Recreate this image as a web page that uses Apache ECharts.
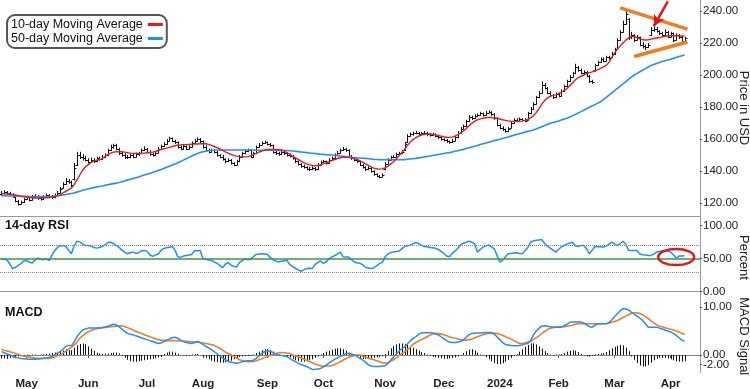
<!DOCTYPE html>
<html><head><meta charset="utf-8">
<script src="https://cdn.jsdelivr.net/npm/echarts@6/dist/echarts.min.js"></script>
<style>html,body{margin:0;padding:0;background:#fff}#c{width:750px;height:389px}</style>
</head><body><div id="c"></div>
<script>
// trading days (last 5 are empty future slots)
const dates = [
'2023-04-18','2023-04-19','2023-04-20','2023-04-21','2023-04-24','2023-04-25','2023-04-26','2023-04-27','2023-04-28',
'2023-05-01','2023-05-02','2023-05-03','2023-05-04','2023-05-05','2023-05-08','2023-05-09','2023-05-10','2023-05-11','2023-05-12','2023-05-15','2023-05-16','2023-05-17','2023-05-18','2023-05-19','2023-05-22','2023-05-23','2023-05-24','2023-05-25','2023-05-26','2023-05-30','2023-05-31',
'2023-06-01','2023-06-02','2023-06-05','2023-06-06','2023-06-07','2023-06-08','2023-06-09','2023-06-12','2023-06-13','2023-06-14','2023-06-15','2023-06-16','2023-06-20','2023-06-21','2023-06-22','2023-06-23','2023-06-26','2023-06-27','2023-06-28','2023-06-29','2023-06-30',
'2023-07-03','2023-07-05','2023-07-06','2023-07-07','2023-07-10','2023-07-11','2023-07-12','2023-07-13','2023-07-14','2023-07-17','2023-07-18','2023-07-19','2023-07-20','2023-07-21','2023-07-24','2023-07-25','2023-07-26','2023-07-27','2023-07-28','2023-07-31',
'2023-08-01','2023-08-02','2023-08-03','2023-08-04','2023-08-07','2023-08-08','2023-08-09','2023-08-10','2023-08-11','2023-08-14','2023-08-15','2023-08-16','2023-08-17','2023-08-18','2023-08-21','2023-08-22','2023-08-23','2023-08-24','2023-08-25','2023-08-28','2023-08-29','2023-08-30','2023-08-31',
'2023-09-01','2023-09-05','2023-09-06','2023-09-07','2023-09-08','2023-09-11','2023-09-12','2023-09-13','2023-09-14','2023-09-15','2023-09-18','2023-09-19','2023-09-20','2023-09-21','2023-09-22','2023-09-25','2023-09-26','2023-09-27','2023-09-28','2023-09-29',
'2023-10-02','2023-10-03','2023-10-04','2023-10-05','2023-10-06','2023-10-09','2023-10-10','2023-10-11','2023-10-12','2023-10-13','2023-10-16','2023-10-17','2023-10-18','2023-10-19','2023-10-20','2023-10-23','2023-10-24','2023-10-25','2023-10-26','2023-10-27','2023-10-30','2023-10-31',
'2023-11-01','2023-11-02','2023-11-03','2023-11-06','2023-11-07','2023-11-08','2023-11-09','2023-11-10','2023-11-13','2023-11-14','2023-11-15','2023-11-16','2023-11-17','2023-11-20','2023-11-21','2023-11-22','2023-11-24','2023-11-27','2023-11-28','2023-11-29','2023-11-30',
'2023-12-01','2023-12-04','2023-12-05','2023-12-06','2023-12-07','2023-12-08','2023-12-11','2023-12-12','2023-12-13','2023-12-14','2023-12-15','2023-12-18','2023-12-19','2023-12-20','2023-12-21','2023-12-22','2023-12-26','2023-12-27','2023-12-28','2023-12-29',
'2024-01-02','2024-01-03','2024-01-04','2024-01-05','2024-01-08','2024-01-09','2024-01-10','2024-01-11','2024-01-12','2024-01-16','2024-01-17','2024-01-18','2024-01-19','2024-01-22','2024-01-23','2024-01-24','2024-01-25','2024-01-26','2024-01-29','2024-01-30','2024-01-31',
'2024-02-01','2024-02-02','2024-02-05','2024-02-06','2024-02-07','2024-02-08','2024-02-09','2024-02-12','2024-02-13','2024-02-14','2024-02-15','2024-02-16','2024-02-20','2024-02-21','2024-02-22','2024-02-23','2024-02-26','2024-02-27','2024-02-28','2024-02-29',
'2024-03-01','2024-03-04','2024-03-05','2024-03-06','2024-03-07','2024-03-08','2024-03-11','2024-03-12','2024-03-13','2024-03-14','2024-03-15','2024-03-18','2024-03-19','2024-03-20','2024-03-21','2024-03-22','2024-03-25','2024-03-26','2024-03-27','2024-03-28',
'2024-04-01','2024-04-02','2024-04-03','2024-04-04','2024-04-05','2024-04-08',
'2024-04-09','2024-04-10','2024-04-11','2024-04-12','2024-04-15'
];
const monthStarts = ['2023-05-01','2023-06-01','2023-07-03','2023-08-01','2023-09-01','2023-10-02','2023-11-01','2023-12-01','2024-01-02','2024-02-01','2024-03-01','2024-04-01'];
const monthLabels = ['May','Jun','Jul','Aug','Sep','Oct','Nov','Dec','2024','Feb','Mar','Apr'];

// daily bars: [open, high, low, close]
const priceBars = [
[125.5,127.5,124.5,126],[126,128,125.5,127],[127,127.5,125,126],[126,127,124.5,125.5],[125.5,126,123.5,124.5],
[124,124.5,120.5,121],[121,122,118.5,119.5],[119.5,121.5,119,120.5],[120.5,123,120,122.5],[122.5,124.5,122,123.5],
[123.5,124,121,122],[122,125,121.5,124],[124,125.5,123,124.5],[124.5,125,122,123],[123,124,121.5,122.5],
[122.5,125,122,124],[124,126,123.5,125],[125,125.5,123,124],[124,125,122.5,123.5],[123.5,126,123,125],
[125,127.5,124.5,126.5],[126.5,130,126,129],[129.5,133,129,132],[132,135.5,131.5,134],[134,135,132,133],
[133,134,130,131],[135,145,134,142],[144,152,143,150],[150,152,147.5,149],[149,150.5,146.5,148],
[148,149.5,146,147],[147,148,144.5,145.5],[145.5,148.5,145,147],[147,148,145,146],[146,149,145.5,148],
[148,149,146.5,147.5],[147.5,150,147,149],[149,151,148,150],[150,154,149.5,153],[153,156.5,152.5,155],
[155,157,154,156],[156,157,153,154],[154,154.5,150,151],[151,152,149,150],[150,151,147.5,148.5],
[148.5,150,147.5,149],[149,151,148,150],[150,151,148,149],[149,151.5,148.5,150.5],[150.5,152,149.5,151],
[151,154,150.5,153],[153,155.5,152.5,154],[154,154.5,151,152],[152,153,149.5,150.5],[150.5,151.5,149,150],
[150,152.5,149.5,151.5],[151.5,155,151,154],[154,156.5,153.5,155.5],[155.5,158,155,157],[157,160,156.5,159],
[159,161.5,158.5,160.5],[160.5,161,158,159],[159,159.5,157,158],[158,158.5,154,155],[155,156,153,154],
[154,156.5,153.5,155.5],[155.5,156,153,154],[154,156,153.5,155],[155,158.5,154.5,157.5],[157.5,160,157,159],
[159,161,158.5,160],[160,160.5,157.5,158.5],[158.5,159,154,155],[155,156,152,153],[153,154,151,152],
[152,154,151.5,153],[153,153.5,151,152],[152,152.5,149,150],[150,150.5,148,149],[149,150,146.5,147.5],
[147.5,148,145,146],[146,148,145.5,147],[147,147.5,144,145],[145,145.5,143,144],[144,147,143.5,146],
[146,150,145.5,149],[149,152,148.5,151],[151,153.5,150.5,152.5],[152.5,154,152,153],[153,153.5,148,149],
[149,152,148.5,151],[151,156,150.5,155],[155,157.5,154.5,156.5],[156.5,158.5,156,157.5],[157.5,159,157,158],
[158,158.5,156,157],[157,157.5,155,156],[156,156.5,151,152],[152,153,150,151],[151,152,149.5,150.5],
[150.5,153,150,152],[152,152.5,150,151],[151,151.5,149,150],[150,151,148.5,149.5],[149.5,150,147,148],
[148,148.5,145,146],[146,146.5,143.5,144.5],[144.5,145,142,143],[143,144,141.5,142.5],[142.5,143,140.5,141.5],
[141.5,142.5,140,141],[141,143,140.5,142],[142,142.5,140,141],[141,145,140.5,144],[144,146.5,143.5,145.5],
[145.5,147,145,146],[146,146.5,144,145],[145,148,144.5,147],[147,149,146.5,148],[148,151,147.5,150],
[150,152.5,149.5,151.5],[151.5,154,151,153],[153,155,152.5,154],[154,154.5,152,153],[153,153.5,148,149],
[149,150,147,148],[148,148.5,146,147],[147,147.5,145,146],[146,146.5,143,144],[144,144.5,141.5,142.5],
[142.5,143,140,141],[141,143,140.5,142],[142,142.5,139,140],[140,140.5,137,138],[138,138.5,136,137],
[137,137.5,135.5,136.5],[136.5,138.5,136,137.5],[141,145.5,140.5,144.5],[144.5,148,144,147],[147,149.5,146.5,148.5],
[148.5,150,148,149],[149,151.5,148.5,150.5],[150.5,152,150,151],[151,153,150.5,152],[153,158,152.5,157],
[158,163,157.5,162],[162,164,161.5,163],[163,164.5,162,163.5],[163.5,165,163,164],[164,164.5,162,163],
[163,164.5,162.5,163.5],[163.5,165,163,164],[164,164.5,162,163],[163,163.5,161.5,162.5],[162.5,164,162,163],
[163,163.5,161,162],[162,162.5,160,161],[161,161.5,159,160],[160,160.5,158.5,159.5],[159.5,160,157.5,158.5],
[158.5,159,157,158],[158,160,157.5,159],[159,162,158.5,161],[161,165,160.5,164],[164,167.5,163.5,166.5],
[166.5,169,166,168],[168,172,167.5,171],[171,175,170.5,174],[174,174.5,172,173],[173,175.5,172.5,174.5],
[174.5,176,174,175],[175,177,174.5,176],[176,176.5,174,175],[175,177.5,174.5,176.5],[176.5,178,176,177],
[177,177.5,174.5,175.5],[175.5,176,172,173],[173,173.5,168,169],[169,169.5,166,167],[167,168,165,166],
[166,166.5,164,165],[165,167.5,164.5,166.5],[167,171,166.5,170],[170,173,169.5,172],[172,173,170.5,171.5],
[171.5,173.5,171,172.5],[172.5,173,171,172],[172,173,170.5,171.5],[172,177,171.5,176],[176,180,175.5,179],
[179,183,178.5,182],[182,187,181.5,186],[186,190,185.5,189],[189,196,188.5,194],[194,195,191,192],
[192,192.5,188,189],[189,190,186.5,187.5],[187.5,188,185,186],[186,189,185.5,188],[188,189,186,187],
[187,191,186.5,190],[190,194,189.5,193],[193,197,192.5,196],[196,200,195.5,199],[199,202,198.5,201],
[201,207,200.5,205],[205,205.5,202,203],[203,204,200.5,201.5],[201.5,203,200.5,202],[202,202.5,198.5,199.5],
[199.5,200,195,196],[196,197,194.5,195.5],[203,207,202,206],[206,209,205.5,208],[208,211,207.5,210],
[210,211,208,209],[209,212,208.5,211],[211,212,209.5,210.5],[211,214.5,210.5,213],[213,217,212.5,216],
[216.5,223,216,222],[222,228,221.5,227],[227,234,226.5,232],[232,241,231.5,238],[235,235.5,222,224],
[224,227,222.5,225],[225,225.5,220.5,222],[222,225,221.5,223.5],[223.5,224,218,219],[219,220.5,216.5,218],
[218,219,215.5,217.5],[217.5,220,217,219],[225,230,224.5,228],[228,230.5,227,229],[229,230,226.5,227.5],
[227.5,228,225,226],[226,227,224,225],[225,228.5,224.5,227],[227,227.5,223,224],[224,227,223.5,226],
[226,226.5,220.5,222],[222,226,221.5,225],[225,225.5,222.5,224],[224,224.5,219.5,221],[221,224,220.5,223]
];

const ma10 = [
125.8,125.7,125.6,125.5,125.3,125,124.6,124.2,123.9,123.6,
123.4,123.2,123.1,123.1,123.2,123.3,123.3,123.4,123.6,124,
124.5,125.3,126.3,127.3,128.3,129.3,131.5,134.5,137.5,140.5,
142.5,144,145.3,146.3,146.7,147,147.8,149,150.3,151.2,
151.8,152,152.1,152,151.8,151.5,151.2,151,150.9,150.9,
151,151.2,151.4,151.6,151.8,152.2,152.8,153.4,153.9,154.3,
154.8,155.3,155.8,156.1,156.3,156.4,156.5,156.6,156.7,156.8,
156.9,157,157,157,156.6,156,155.3,154.6,153.8,152.9,
152,151.2,150.4,149.8,149.3,149,148.8,148.8,149,149.5,
150.2,151,151.8,152.5,153.1,153.4,153.5,153.5,153.4,153.3,
153.1,152.5,151.5,150.4,149.2,148.2,147.2,146.2,145.3,144.5,
143.9,143.5,143.3,143.4,143.8,144.4,145.1,145.8,146.5,147.2,
147.8,148.3,148.6,148.6,148.5,148.2,147.8,147.2,146.4,145.5,
144.5,143.5,142.6,141.8,141.4,141.2,141.3,142,143,144.3,
145.8,147.5,149.5,151.5,153.5,156,158,159.6,160.8,161.8,
162.5,162.9,163.1,163.1,162.9,162.6,162.2,161.8,161.4,161.1,
161,161.2,161.8,162.7,163.8,165,166.5,168.2,169.8,171,
172,172.6,173,173.3,173.5,173.4,173.2,173,172.5,172,
171.6,171.3,171.1,171,171,171,171.2,171.6,172.2,173.2,
174.5,176.5,179,181.8,184,185.7,186.7,187.3,187.6,188.3,
189.2,190.4,191.5,193.3,195.2,197,198.3,199.2,200,200.8,
201.5,202,202.6,203.3,204.2,205.1,206,208,210.8,213.8,
216,218.2,220,221.8,223.2,224,224,223.3,222.6,222,
221.9,222,222.4,222.8,223.1,223.4,223.8,224.2,224.4,224.5,
224.5,224.5,224.4,224.4,224.3
];

const ma50 = [
124.5,124.5,124.4,124.4,124.4,124.3,124.3,124.2,124.2,124.2,
124.1,124.1,124.1,124,124,124,124,124,124.1,124.3,
124.5,124.7,125,125.3,125.6,125.9,126.3,126.8,127.4,128,
128.4,128.8,129.2,129.6,130,130.3,130.6,131,131.4,131.8,
132.1,132.4,132.8,133.3,133.8,134.3,134.8,135.3,135.8,136.3,
136.9,137.5,138,138.5,139.1,139.7,140.3,140.9,141.6,142.3,
143,143.7,144.4,145.2,146,146.8,147.6,148.5,149.4,150.2,
150.9,151.5,152,152.4,152.7,152.9,153,153.1,153.1,153.1,
153.1,153.1,153.1,153.1,153.1,153.1,153.1,153.1,153.1,153.1,
153.1,153,153,153,153,153,153,153,153,152.9,
152.9,152.8,152.8,152.7,152.5,152.3,152.1,151.9,151.7,151.5,
151.3,151.1,150.9,150.7,150.5,150.4,150.2,150.1,150,149.8,
149.6,149.4,149.2,149,148.8,148.6,148.4,148.2,148.1,148,
147.9,147.7,147.5,147.3,147.2,147.1,147,147,147,147,
147,147,147,147,147.1,147.3,147.5,147.7,147.9,148.2,
148.5,148.8,149.1,149.4,149.7,150,150.3,150.6,150.9,151.2,
151.5,151.9,152.3,152.7,153.1,153.5,154,154.5,155,155.5,
156,156.5,157,157.5,158,158.5,159,159.4,159.8,160.3,
160.8,161.3,161.8,162.3,162.8,163.3,163.8,164.3,164.8,165.2,
165.6,166.3,167,167.7,168.4,169.1,169.8,170.3,170.8,171.3,
171.9,172.5,173,173.8,174.6,175.4,176.3,177.1,178,178.9,
179.8,180.7,181.5,182.4,183.3,184.6,186,187.4,188.8,190.3,
191.7,193.1,194.5,195.9,197.3,198.7,200,201,202,203,
204,205,206,206.6,207.2,207.8,208.4,208.9,209.4,209.9,
210.4,210.9,211.5,212,212.5
];

const rsi = [
50,49,48,42,35,37,40,42.5,47,47,
45,43.5,48,51,49,48.5,50,47,55,62,
67,70,69.5,68.5,63,57.5,70,76.5,75.5,72,
70,70,69,67,66,67,68.5,71,74.5,75,
73,70,67.5,63,60,57.5,59,60,58,59,
62,62.5,61.5,56,53.5,55.5,57,63,65.5,66.5,
67.5,68.5,63,53,52,54,55,55.5,56.5,62.5,
62,62.5,50,49,48,47.5,45,43,40,36.5,
42,44,40,38.5,37.5,44,47,50,48.5,49,
53,56.5,57,57.5,57,56.5,52,48.5,46.5,45,
46,47,47.5,41,38,35.5,33,31,33,35,
35.5,35,41,44.5,46.5,43,45.5,50,52.5,54.5,
57,60,53,52.5,52.5,49,45,44,43,41,
37,36,35,36,39,42.5,44,52.5,57,59.5,
60,61,61.5,65,68.5,69.5,70.5,72.5,74.5,73,
70.5,68.5,68,67,66.5,66,64,61,58,54,
53,58,61.5,66,71,73.5,75,76.5,75,72.5,
60,64,67.5,69,71,68,65,55,45,47.5,
53,57.5,58,58.5,59,58,57.5,62,67,75,
77,78,78.5,79,73,69,66,63,60,64,
68,70,72,74,75,69,69,70,70,65,
57.5,63,68.5,68,68,67.5,69,72,75,72,
70,73,76.5,72,62.5,62.5,62.5,62.5,57,56,
55.5,55,55,57,60,61,62,62.5,61.5,60,
56,51,54,54,54.5
];

const macd = [
0.7,0.5,0.2,0,-0.2,-0.5,-0.6,-0.75,-0.8,-0.85,
-0.9,-0.9,-0.9,-0.85,-0.8,-0.7,-0.6,-0.5,-0.3,0,
0.4,0.7,1.2,1.8,2,1.9,2.8,3.8,4.6,5.2,
5.4,5.6,5.6,5.6,5.6,5.6,5.7,5.85,6,6.2,
6.4,6.3,5.9,5.4,4.9,4.5,4.3,4.2,4,3.8,
3.6,3.4,3.2,3,2.8,2.6,2.4,2.5,2.8,3.1,
3.3,3.6,3.7,3.5,3.1,2.8,2.6,2.5,2.4,2.6,
2.8,2.6,2.2,1.8,1.5,1.1,0.7,0.3,-0.2,-0.6,
-1,-1.3,-1.5,-1.6,-1.7,-1.6,-1.4,-1.25,-1.2,-1.2,
-1.1,-0.7,-0.2,0.3,0.7,0.9,0.8,0.5,0.2,0,
-0.1,-0.2,-0.35,-0.7,-1.1,-1.4,-1.7,-2,-2.2,-2.4,
-2.7,-3,-3,-2.9,-2.8,-2.5,-2.1,-1.7,-1.3,-0.9,
-0.6,-0.3,0,0.3,0.3,0.2,0,-0.3,-0.7,-1,
-1.5,-2,-2.3,-2.4,-2.4,-2.4,-2.3,-2.3,-1.8,-1.1,
-0.5,0.2,0.8,1.3,1.7,2.3,2.9,3.4,3.8,4.3,
4.6,4.65,4.7,4.65,4.6,4.4,4.2,3.8,3.4,3,
2.7,2.6,2.6,2.7,2.8,3.2,3.7,4.2,4.5,4.55,
4.6,4.6,4.65,4.7,4.7,4.7,4.4,3.8,3.2,2.6,
2.2,2.1,2,1.95,1.95,2,2.1,2.3,2.4,3,
4.2,5,5.6,6,6.1,6,5.9,5.85,5.8,5.8,
5.8,6.1,6.4,6.8,6.9,6.9,6.9,6.9,6.7,6.3,
5.9,5.8,6.2,6.5,6.5,6.5,6.5,6.8,7.3,8,
8.6,9.2,9.7,9.6,9.4,8.9,8.5,8.1,7.7,7.2,
6.5,5.8,5.8,5.8,5.8,5.6,5.4,5.2,5,4.8,
4.5,4.1,3.6,3.1,2.9
];

const signal = [
1.2,1,0.85,0.65,0.5,0.3,0.1,-0.1,-0.25,-0.35,
-0.45,-0.55,-0.65,-0.7,-0.7,-0.7,-0.7,-0.7,-0.6,-0.4,
-0.15,0.05,0.4,0.8,1.2,1.6,2.1,2.7,3.5,4,
4.5,4.85,5.1,5.3,5.5,5.6,5.7,5.75,5.8,5.9,
5.95,6,6.05,6.1,5.95,5.7,5.45,5.2,4.95,4.7,
4.5,4.2,4,3.8,3.6,3.4,3.2,3.1,3.05,3,
3,3,3,3,2.95,2.9,2.85,2.8,2.75,2.7,
2.65,2.6,2.5,2.4,2.3,2.15,2,1.7,1.4,1,
0.6,0.3,0,-0.3,-0.6,-1,-1.15,-1.3,-1.4,-1.4,
-1.35,-1.2,-1,-0.8,-0.55,-0.3,-0.1,0.1,0.3,0.45,
0.5,0.45,0.4,0.3,0,-0.2,-0.35,-0.6,-0.9,-1.1,
-1.35,-1.6,-1.9,-2.1,-2.3,-2.3,-2.3,-2.3,-2.2,-2,
-1.7,-1.4,-1.1,-0.8,-0.5,-0.3,-0.1,0,0,-0.2,
-0.4,-0.7,-0.85,-1,-1.2,-1.4,-1.6,-1.7,-1.6,-1.3,
-1,-0.6,-0.1,0.3,0.7,1.1,1.6,2.2,2.6,2.9,
3.2,3.5,3.8,4.1,4.4,4.5,4.45,4.35,4.2,4,
3.8,3.6,3.5,3.35,3.2,3.1,3.1,3.2,3.35,3.6,
3.8,4,4.2,4.4,4.5,4.5,4.5,4.5,4.3,4.1,
3.8,3.6,3.3,3,2.7,2.4,2.4,2.5,2.7,2.8,
3.2,3.6,4,4.5,4.9,5.3,5.6,5.7,5.8,5.85,
5.9,5.9,6,6.1,6.2,6.4,6.5,6.5,6.5,6.5,
6.5,6.5,6.5,6.5,6.5,6.5,6.5,6.6,6.8,7,
7.2,7.5,7.8,8.1,8.4,8.7,8.8,8.8,8.65,8.4,
8,7.6,7.1,6.7,6.3,6,5.9,5.7,5.5,5.35,
5.2,5,4.8,4.5,4.35
];

const histogram = [
-0.7,-0.7,-0.8,-0.6,-0.5,-0.4,-0.3,-0.2,-0.1,0.1,
-0.1,0.1,0.1,0,0.1,0.1,0.2,0.3,0.4,0.5,
0.5,0.6,0.9,1.2,1,1,1.5,2,2.3,2.4,
2.2,1.8,1.3,0.9,0.5,0.3,0.2,0.3,0.3,0.4,
0.5,0.5,0.3,-0.2,-0.6,-1,-1.3,-1.4,-1.4,-1.3,
-1.2,-1.1,-1,-0.9,-0.8,-0.7,-0.5,-0.4,0.2,0.5,
0.7,0.7,0.5,0.2,0,-0.1,-0.2,-0.1,0.1,0.2,
0.2,0,-0.3,-0.6,-0.9,-1.2,-1.4,-1.5,-1.6,-1.6,
-1.5,-1.4,-1.2,-0.9,-0.6,-0.4,-0.3,-0.2,-0.2,-0.1,
0.1,0.4,0.7,1,1.2,1.2,1,0.7,0.3,0.1,
-0.1,-0.2,-0.3,-0.5,-0.8,-1.1,-1.3,-1.4,-1.4,-1.3,
-1.1,-0.9,-0.6,-0.3,0.1,0.4,0.7,0.9,1.1,1.3,
1.4,1.4,1.2,0.9,0.5,0.2,-0.1,-0.4,-0.6,-0.8,
-0.8,-0.8,-0.7,-0.6,-0.5,-0.4,-0.3,0.2,0.8,1.4,
1.9,2.2,2.4,2.4,2.3,2.1,1.8,1.5,1.2,0.9,
0.6,0.4,0.1,-0.2,-0.4,-0.5,-0.6,-0.7,-0.8,-0.8,
-0.7,-0.6,-0.5,-0.3,-0.1,0.4,0.8,1.1,1.2,0.9,
0.5,0.1,-0.1,-0.5,-0.9,-1.3,-1.7,-1.9,-1.9,-1.7,
-1.4,-1,-0.6,-0.2,0.2,0.7,1.2,1.7,2.1,2.4,
2.4,2.2,1.8,1.3,0.8,0.4,0.1,-0.1,0.1,0.1,
0.2,0.4,0.7,0.9,1,0.9,0.6,0.2,-0.1,-0.3,
-0.3,-0.2,0.1,0.2,0.3,0.4,0.6,1,1.4,1.7,
1.9,2.1,2,1.5,0.8,-0.3,-1,-1.7,-2.2,-2.4,
-2.4,-2.1,-1.6,-1.1,-0.8,-0.6,-0.6,-0.6,-0.7,-0.9,
-1.1,-1.3,-1.4,-1.4,-1.3
];

const priceTicks = [120,140,160,180,200,220,240];
const rsiTicks = [0,50,100];
const macdTicks = [0,10];
const macdLowTicks = [-2];

const FONT = 'Liberation Sans';
const isMonthStart = (i, v) => monthStarts.indexOf(v) >= 0;

function xAx(gridIndex, showLabels) {
  return {
    type: 'category', gridIndex: gridIndex, data: dates, boundaryGap: true,
    axisLine: {show: true, lineStyle: {color: '#9a9a9a', width: 1}},
    axisTick: {show: showLabels, interval: isMonthStart, alignWithLabel: true, length: 3, lineStyle: {color: '#555'}},
    axisLabel: {show: showLabels, interval: isMonthStart,
      formatter: v => monthLabels[monthStarts.indexOf(v)],
      fontFamily: FONT, fontWeight: 'bold', fontSize: 11.5, color: '#222', margin: 5},
    splitLine: {show: false}
  };
}
function yAx(gridIndex, min, max, ticks, name, gap, showLine) {
  return {
    type: 'value', gridIndex: gridIndex, position: 'right', min: min, max: max,
    axisLine: {show: showLine !== false, lineStyle: {color: '#9a9a9a', width: 1}},
    axisTick: {show: true, customValues: ticks, length: 2, lineStyle: {color: '#555'}},
    axisLabel: {customValues: ticks, hideOverlap: false, formatter: v => Number(v).toFixed(2),
      fontFamily: FONT, fontSize: 11.5, color: '#222', margin: 3},
    splitLine: {show: false},
    name: name, nameLocation: 'middle', nameRotate: -90, nameGap: gap, nameMoveOverlap: false,
    nameTextStyle: {fontFamily: FONT, fontSize: 13, color: '#222'}
  };
}

function renderOHLC(params, api) {
  const i = api.value(0);
  const o = api.coord([i, api.value(1)]);
  const h = api.coord([i, api.value(2)]);
  const l = api.coord([i, api.value(3)]);
  const c = api.coord([i, api.value(4)]);
  const x = Math.round(o[0]) + 0.5;
  const st = {stroke: '#111', lineWidth: 1};
  return {type: 'group', children: [
    {type: 'line', shape: {x1: x, y1: h[1], x2: x, y2: l[1]}, style: st},
    {type: 'line', shape: {x1: x - 2, y1: Math.round(o[1]) + 0.5, x2: x, y2: Math.round(o[1]) + 0.5}, style: st},
    {type: 'line', shape: {x1: x, y1: Math.round(c[1]) + 0.5, x2: x + 2, y2: Math.round(c[1]) + 0.5}, style: st}
  ]};
}
function renderHist(params, api) {
  const i = api.value(0);
  const top = api.coord([i, api.value(1)]);
  const base = api.coord([i, 0]);
  const x = Math.round(top[0]) + 0.5;
  return {type: 'line', shape: {x1: x, y1: base[1], x2: x, y2: top[1]}, style: {stroke: '#111', lineWidth: 1}};
}

const BLUE = '#1e8fff', RED = '#f01818', ORANGE = '#f47c20';
const gridBase = {left: 0, right: 50, containLabel: false, outerBoundsMode: 'none'};

const option = {
  animation: false,
  backgroundColor: '#fff',
  grid: [
    Object.assign({top: 0, height: 216}, gridBase),
    Object.assign({top: 216, height: 83}, gridBase),
    Object.assign({top: 300, height: 72.5}, gridBase)
  ],
  legend: {
    left: 7, top: 15, orient: 'vertical', align: 'right',
    data: ['10-day Moving Average', '50-day Moving Average'],
    icon: 'rect', itemWidth: 15, itemHeight: 3, itemGap: 1,
    padding: [3, 4, 3, 4], borderColor: '#555', borderWidth: 2, borderRadius: 8,
    backgroundColor: '#fff', selectedMode: false,
    textStyle: {fontFamily: FONT, fontSize: 12.5, color: '#111'}
  },
  xAxis: [xAx(0, false), xAx(1, false), xAx(2, true)],
  yAxis: [
    yAx(0, 111.875, 246.875, priceTicks, 'Price in USD', 37),
    yAx(1, -11.06, 114.7, rsiTicks, 'Percent', 37),
    yAx(2, -3.65, 11.46, macdTicks, 'MACD Signal', 37),
    yAx(2, -3.65, 11.46, macdLowTicks, '', 37, false)
  ],
  series: [
    {type: 'custom', name: 'Price', xAxisIndex: 0, yAxisIndex: 0,
      data: priceBars.map((b, i) => [i, b[0], b[1], b[2], b[3]]),
      encode: {x: 0, y: [1, 2, 3, 4]}, renderItem: renderOHLC, z: 2},
    {type: 'line', name: '50-day Moving Average', xAxisIndex: 0, yAxisIndex: 0, data: ma50,
      showSymbol: false, lineStyle: {color: BLUE, width: 1.6}, itemStyle: {color: BLUE}, z: 3},
    {type: 'line', name: '10-day Moving Average', xAxisIndex: 0, yAxisIndex: 0, data: ma10,
      showSymbol: false, lineStyle: {color: RED, width: 1.4}, itemStyle: {color: RED}, z: 4,
      markLine: {silent: true, symbol: ['none', 'none'], label: {show: false}, animation: false,
        data: [
          [{coord: [221, 242], lineStyle: {color: ORANGE, width: 3.5, type: 'solid'}}, {coord: [245, 228.7]}],
          [{coord: [226, 211.6], lineStyle: {color: ORANGE, width: 3.5, type: 'solid'}}, {coord: [245, 220.6]}],
          [{coord: [238, 246], lineStyle: {color: '#e8141b', width: 2.5, type: 'solid'}},
           {coord: [233, 230.5], symbol: 'arrow', symbolSize: [9, 11]}]
        ]}},
    {type: 'line', name: 'RSI', xAxisIndex: 1, yAxisIndex: 1, data: rsi,
      showSymbol: false, lineStyle: {color: BLUE, width: 1.5}, z: 4,
      markLine: {silent: true, symbol: ['none', 'none'], label: {show: false}, animation: false,
        data: [
          {yAxis: 70, lineStyle: {type: 'dotted', color: '#8a8a8a', width: 1}},
          {yAxis: 30, lineStyle: {type: 'dotted', color: '#8a8a8a', width: 1}},
          {yAxis: 50, lineStyle: {type: 'solid', color: '#3b9a3b', width: 1.5}}
        ]}},
    {type: 'custom', name: 'Histogram', xAxisIndex: 2, yAxisIndex: 2,
      data: histogram.map((v, i) => [i, v]), encode: {x: 0, y: 1},
      renderItem: renderHist, z: 2},
    {type: 'line', name: 'Signal', xAxisIndex: 2, yAxisIndex: 2, data: signal,
      showSymbol: false, lineStyle: {color: ORANGE, width: 1.6}, z: 3,
      markLine: {silent: true, symbol: ['none', 'none'], label: {show: false}, animation: false, z: 1,
        data: [{yAxis: 0, lineStyle: {type: 'dotted', color: '#777', width: 1}}]}},
    {type: 'line', name: 'MACD', xAxisIndex: 2, yAxisIndex: 2, data: macd,
      showSymbol: false, lineStyle: {color: BLUE, width: 1.5}, z: 4}
  ]
};

const chart = echarts.init(document.getElementById('c'));
chart.setOption(option);
const ctr = chart.convertToPixel({xAxisIndex: 1, yAxisIndex: 1}, [241, 52.4]);
chart.setOption({graphic: [
  {id: 't1', type: 'text', left: 5, top: 219, style: {text: '14-day RSI', font: 'bold 12.5px "Liberation Sans"', fill: '#111'}},
  {id: 't2', type: 'text', left: 5, top: 306, style: {text: 'MACD', font: 'bold 12.5px "Liberation Sans"', fill: '#111'}},
  {id: 'ell', type: 'ellipse', shape: {cx: ctr[0], cy: ctr[1], rx: 18, ry: 8},
    style: {stroke: '#e3171e', lineWidth: 2.5, fill: 'none'}, z: 100}
]});
</script>
</body></html>
